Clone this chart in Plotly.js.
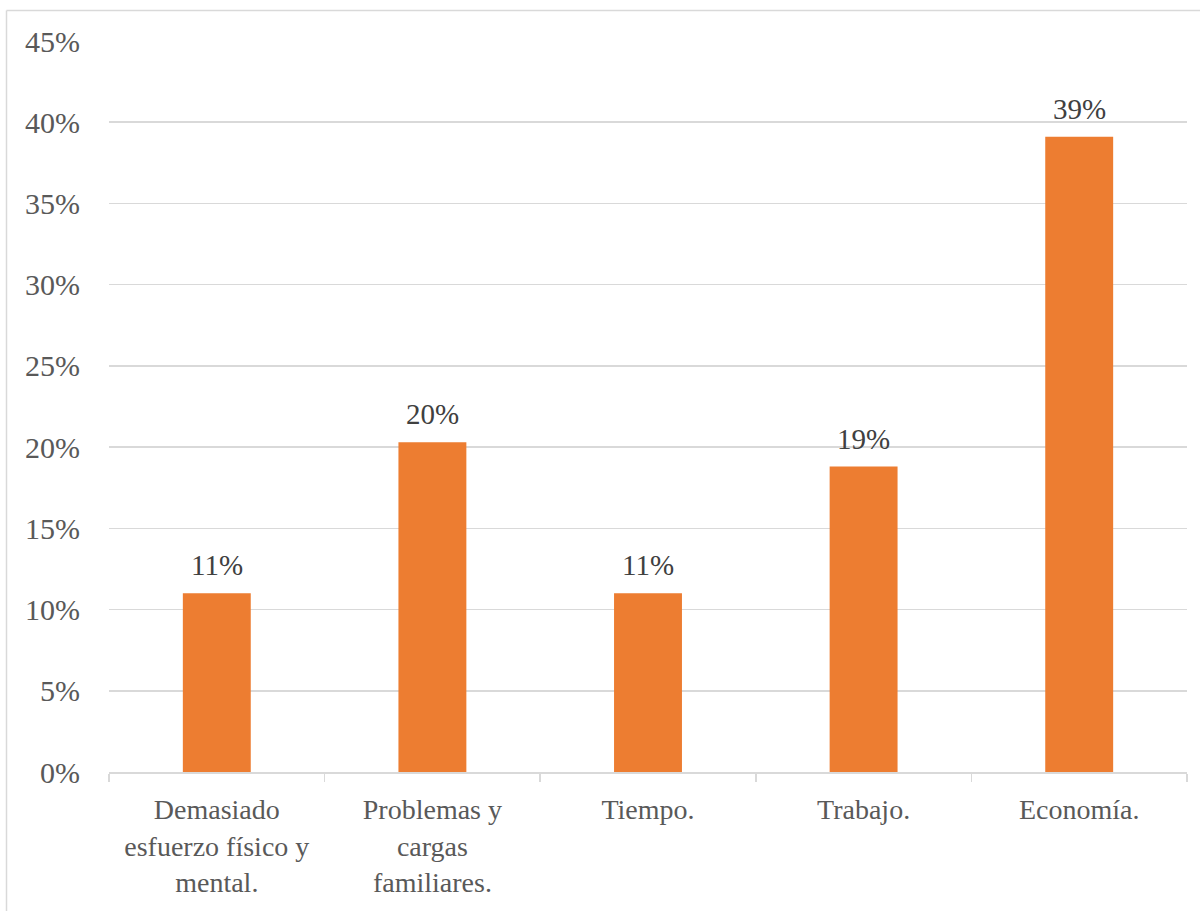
<!DOCTYPE html>
<html>
<head>
<meta charset="utf-8">
<script src="https://cdn.plot.ly/plotly-3.0.1.min.js"></script>
<style>
  html, body { margin: 0; padding: 0; background: #fff; }
  #chart { width: 1200px; height: 911px; }
</style>
</head>
<body>
<div id="chart"></div>
<script>
const categories = [
  "Demasiado<br>esfuerzo físico y<br>mental.",
  "Problemas y<br>cargas<br>familiares.",
  "Tiempo.",
  "Trabajo.",
  "Economía."
];
const values = [0.11, 0.203, 0.11, 0.188, 0.391];
const valueLabels = ["11%", "20%", "11%", "19%", "39%"];
const yTickVals = [0, 0.05, 0.10, 0.15, 0.20, 0.25, 0.30, 0.35, 0.40, 0.45];
const yTickText = ["0%", "5%", "10%", "15%", "20%", "25%", "30%", "35%", "40%", "45%"];

const font = "Liberation Serif, Times New Roman, serif";

const trace = {
  type: "bar",
  x: categories,
  y: values,
  marker: { color: "#ED7D31" },
  width: 0.315,
  hoverinfo: "none"
};

const annotations = categories.map((c, i) => ({
  x: c, y: values[i], xref: "x", yref: "y",
  text: valueLabels[i], showarrow: false,
  yanchor: "bottom", yshift: 10,
  font: { family: font, size: 29, color: "#404040" }
}));

const layout = {
  width: 1200, height: 911,
  margin: { l: 109, r: 13, t: 41, b: 139 },
  paper_bgcolor: "#fff", plot_bgcolor: "#fff",
  showlegend: false,
  font: { family: font, color: "#595959", size: 29 },
  xaxis: {
    type: "category",
    showgrid: false,
    showline: true, linecolor: "#d9d9d9", linewidth: 1.5,
    ticks: "outside", tickson: "boundaries", ticklen: 8, tickcolor: "#d9d9d9", tickwidth: 1.5,
    ticklabelstandoff: 12,
    tickfont: { family: font, size: 28, color: "#595959" },
    fixedrange: true
  },
  yaxis: {
    range: [0, 0.45],
    tickvals: yTickVals, ticktext: yTickText,
    showgrid: true, gridcolor: "#d9d9d9", gridwidth: 1.5,
    zeroline: false, showline: false, ticks: "",
    ticklabelstandoff: 28,
    tickfont: { family: font, size: 30, color: "#595959" },
    fixedrange: true
  },
  annotations: annotations,
  shapes: [
    { type: "line", xref: "paper", yref: "paper",
      x0: (6.5 - 109) / 1078, x1: (6.5 - 109) / 1078,
      y0: 1 + (41 - 10.5) / 731, y1: -139 / 731,
      line: { color: "#d9d9d9", width: 1.5 } },
    { type: "line", xref: "paper", yref: "paper",
      x0: (6.5 - 109) / 1078, x1: 1 + 13 / 1078,
      y0: 1 + (41 - 10.5) / 731, y1: 1 + (41 - 10.5) / 731,
      line: { color: "#d9d9d9", width: 1.5 } }
  ]
};

Plotly.newPlot("chart", [trace], layout, { displayModeBar: false, staticPlot: true });
</script>
</body>
</html>
